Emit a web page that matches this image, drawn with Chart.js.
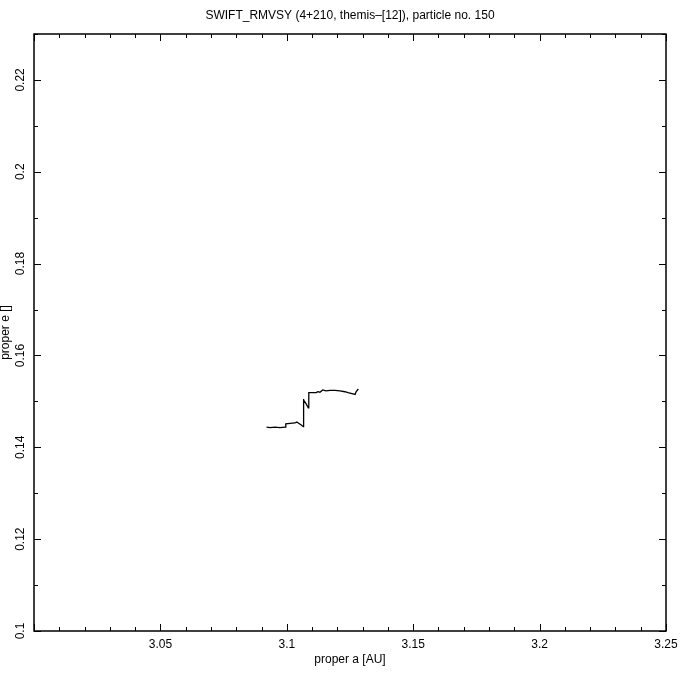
<!DOCTYPE html>
<html>
<head>
<meta charset="utf-8">
<script src="https://cdn.jsdelivr.net/npm/chart.js@4/dist/chart.umd.min.js"></script>
<style>
  html, body { margin: 0; padding: 0; background: #fff; }
  #wrap { width: 680px; height: 680px; }
</style>
</head>
<body>
<div id="wrap"><canvas id="c"></canvas></div>
<script>
// proper a [AU] and proper e along the particle track
var properA = [3.0920, 3.0934, 3.0953, 3.0973, 3.0993, 3.0996, 3.1013, 3.1032, 3.1040, 3.1048,
               3.1056, 3.1065, 3.1065, 3.1068, 3.1076, 3.1085, 3.1087, 3.1100, 3.1116, 3.1123,
               3.1131, 3.1142, 3.1155, 3.1171, 3.1191, 3.1210, 3.1230, 3.1242, 3.1258, 3.1270,
               3.1274, 3.1283];
var properE = [0.1444, 0.1443, 0.1444, 0.1443, 0.1444, 0.1451, 0.1452, 0.1453, 0.1455, 0.1452,
               0.1449, 0.1445, 0.1505, 0.1503, 0.1495, 0.1486, 0.1519, 0.1519, 0.1519, 0.1521,
               0.1520, 0.1525, 0.1523, 0.1524, 0.1524, 0.1523, 0.1521, 0.1519, 0.1517, 0.1515,
               0.1521, 0.1527];

var xTickLabels = ['3.05', '3.1', '3.15', '3.2', '3.25'];
var yTickLabels = ['0.1', '0.12', '0.14', '0.16', '0.18', '0.2', '0.22'];

var titleText = 'SWIFT_RMVSY (4+210, themis\u2013[12]), particle no. 150';
var xTitle = 'proper a [AU]';
var yTitle = 'proper e []';

var points = [];
for (var i = 0; i < properA.length; i++) {
    points.push({ x: properA[i], y: properE[i] });
}

var font = '12px "Liberation Sans", Arial, sans-serif';

// frame, inward ticks and all text
var framePlugin = {
    id: 'frame',
    afterDraw: function (chart) {
        var ctx = chart.ctx;
        var a = chart.chartArea;
        var xs = chart.scales.x, ys = chart.scales.y;
        ctx.save();
        ctx.strokeStyle = '#000';
        ctx.lineWidth = 1.5;
        ctx.strokeRect(a.left, a.top, a.right - a.left, a.bottom - a.top);

        ctx.lineWidth = 1;
        ctx.beginPath();
        // x ticks, every 0.01, major every 0.05
        for (var k = 0; k <= 25; k++) {
            var px = Math.round(xs.getPixelForValue(3.0 + k * 0.01)) + 0.5;
            var len = (k % 5 === 0) ? 7 : 4;
            ctx.moveTo(px, a.bottom); ctx.lineTo(px, a.bottom - len);
            ctx.moveTo(px, a.top); ctx.lineTo(px, a.top + len);
        }
        // y ticks, every 0.01, major every 0.02
        for (var m = 0; m <= 13; m++) {
            var py = Math.round(ys.getPixelForValue(0.1 + m * 0.01)) + 0.5;
            var l2 = (m % 2 === 0) ? 7 : 4;
            ctx.moveTo(a.left, py); ctx.lineTo(a.left + l2, py);
            ctx.moveTo(a.right, py); ctx.lineTo(a.right - l2, py);
        }
        ctx.stroke();

        ctx.fillStyle = '#000';
        ctx.font = font;
        ctx.textAlign = 'center';
        ctx.textBaseline = 'middle';
        xTickLabels.forEach(function (t) {
            ctx.fillText(t, xs.getPixelForValue(parseFloat(t)), a.bottom + 14);
        });
        ctx.fillText(xTitle, (a.left + a.right) / 2, a.bottom + 29);
        ctx.fillText(titleText, (a.left + a.right) / 2, 16);

        yTickLabels.forEach(function (t) {
            ctx.save();
            ctx.translate(a.left - 13, ys.getPixelForValue(parseFloat(t)));
            ctx.rotate(-Math.PI / 2);
            ctx.fillText(t, 0, 0);
            ctx.restore();
        });
        ctx.save();
        ctx.translate(6, (a.top + a.bottom) / 2);
        ctx.rotate(-Math.PI / 2);
        ctx.fillText(yTitle, 0, 0);
        ctx.restore();
        ctx.restore();
    }
};

new Chart(document.getElementById('c'), {
    type: 'scatter',
    data: {
        datasets: [{
            data: points,
            showLine: true,
            borderColor: '#000',
            borderWidth: 1.3,
            pointRadius: 0,
            tension: 0,
            fill: false
        }]
    },
    options: {
        responsive: true,
        maintainAspectRatio: false,
        animation: false,
        layout: { padding: { left: 34, right: 14, top: 34, bottom: 49 } },
        plugins: { legend: { display: false }, tooltip: { enabled: false } },
        scales: {
            x: { type: 'linear', min: 3.0, max: 3.25, display: false },
            y: { type: 'linear', min: 0.1, max: 0.23, display: false }
        }
    },
    plugins: [framePlugin]
});
</script>
</body>
</html>
